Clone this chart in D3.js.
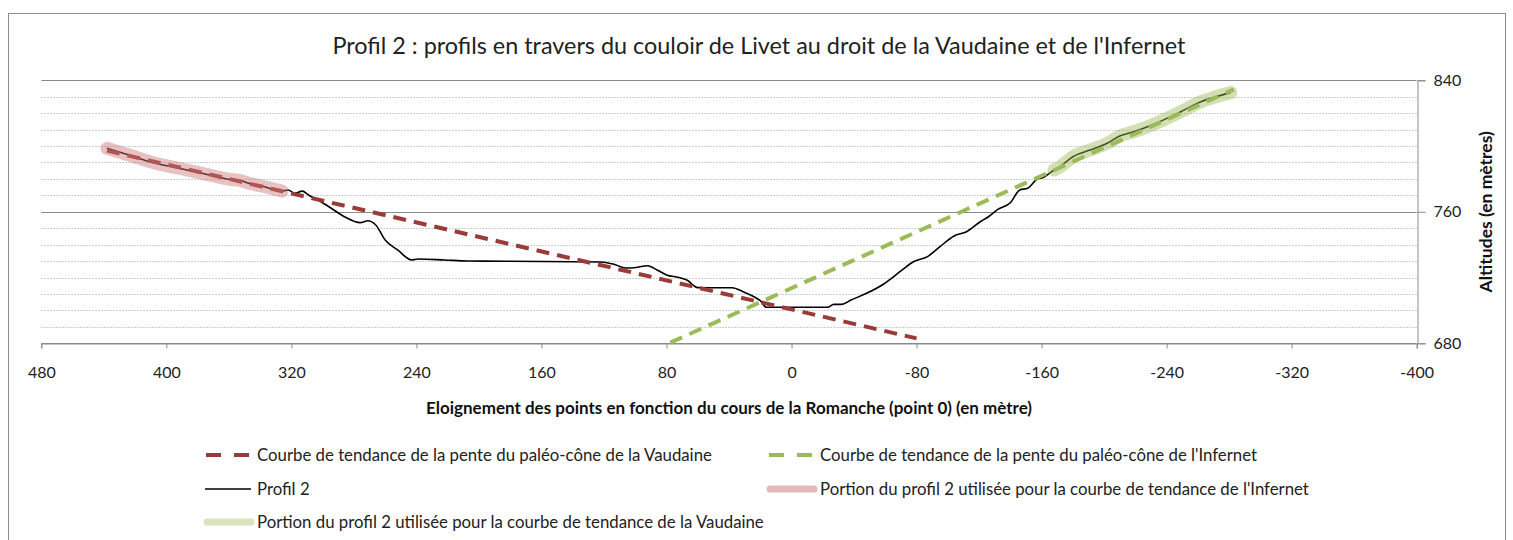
<!DOCTYPE html>
<html>
<head>
<meta charset="utf-8">
<script src="https://cdn.jsdelivr.net/npm/d3@7"></script>
<style>
  body { margin: 0; background: #fff; }
  svg { display: block; font-family: Lato, "Open Sans", sans-serif; }
</style>
</head>
<body>
<div id="viz"></div>
<script>
'use strict';

// distance to the Romanche (m) / altitude (m) of profil 2
var profileX = [438, 424, 407, 392, 377, 360, 352, 347, 339, 326, 322, 318, 313, 309, 303, 296,
    286, 276, 271, 266, 260, 252, 243, 239, 222, 207, 183, 122, 114, 106, 101, 92, 86, 80,
    72, 67, 60, 52, 38, 31, 24, 20, 16, -23, -27, -32, -38, -48, -59, -70, -78, -87, -95,
    -104, -112, -121, -126, -132, -140, -146, -151, -157, -161, -168, -172, -180, -191,
    -202, -210, -219, -234, -249, -262, -271, -281];
var profileY = [798.6, 794.6, 789.5, 786.5, 783.4, 779.8, 778.9, 777.3, 775.7, 772.6, 773.3,
    771.3, 772.6, 770.2, 767.2, 763.1, 757.0, 753.4, 754.6, 752.0, 742.8, 736.8, 730.7, 731.3,
    730.7, 730.1, 729.9, 729.5, 728.2, 725.8, 726.0, 727.2, 724.6, 721.6, 720.0, 718.5, 713.9,
    713.8, 713.8, 711.4, 708.3, 705.9, 701.9, 701.9, 703.7, 703.7, 706.3, 710.4, 716.1, 724.0,
    729.6, 732.7, 738.8, 745.3, 747.9, 754.1, 757.0, 761.5, 765.5, 773.3, 774.3, 779.8, 780.9,
    785.4, 787.6, 793.5, 797.6, 801.7, 806.1, 808.7, 814.2, 820.9, 827.0, 829.8, 832.5];

// trend lines (end points)
var vaudaineTrendX = [438, -80];
var vaudaineTrendY = [797.2, 683.0];
var infernetTrendX = [77.6, -283];
var infernetTrendY = [680.4, 834.5];

// parts of the profile used for the trend lines
var pinkPortionRange = [326, 438];
var greenPortionRange = [-283, -168];

var xTicks = [480, 400, 320, 240, 160, 80, 0, -80, -160, -240, -320, -400];
var yTicks = [680, 760, 840];
var yMinor = [690, 700, 710, 720, 730, 740, 750, 770, 780, 790, 800, 810, 820, 830];

var title = "Profil 2 : profils en travers du couloir de Livet au droit de la Vaudaine et de l'Infernet";
var xTitle = 'Eloignement des points en fonction du cours de la Romanche (point 0) (en mètre)';
var yTitle = 'Altitudes (en mètres)';

var legendItems = [
    {label: 'Courbe de tendance de la pente du paléo-cône de la Vaudaine', kind: 'dash', color: '#993b38', col: 0, row: 0},
    {label: "Courbe de tendance de la pente du paléo-cône de l'Infernet", kind: 'dash', color: '#9bbb59', col: 1, row: 0},
    {label: 'Profil 2', kind: 'line', color: '#000', col: 0, row: 1},
    {label: "Portion du profil 2 utilisée pour la courbe de tendance de l'Infernet", kind: 'band', color: '#e6b9b8', col: 1, row: 1},
    {label: 'Portion du profil 2 utilisée pour la courbe de tendance de la Vaudaine', kind: 'band', color: '#d7e4bd', col: 0, row: 2}
];

var width = 1513,
    height = 540;
var plotLeft = 41.3,
    plotRight = 1416.7,
    plotTop = 80.3,
    plotBottom = 343.3;

var svg = d3.select('#viz').append('svg')
    .attr('width', width)
    .attr('height', height);

svg.append('rect')
    .attr('x', 8.5).attr('y', 13.5)
    .attr('width', 1497).attr('height', 560)
    .attr('fill', '#fff')
    .attr('stroke', '#8c8c8c');

var x = d3.scaleLinear().domain([480, -400]).range([plotLeft, plotRight]);
var y = d3.scaleLinear().domain([680, 840]).range([plotBottom, plotTop]);

// grid
svg.append('g')
    .selectAll('line')
    .data(yMinor)
    .enter().append('line')
    .attr('x1', plotLeft).attr('x2', plotRight)
    .attr('y1', d => Math.round(y(d)) + 0.5)
    .attr('y2', d => Math.round(y(d)) + 0.5)
    .attr('stroke', '#bdbdbd')
    .attr('stroke-dasharray', '1.5,1.5');
svg.append('g')
    .selectAll('line')
    .data(yTicks)
    .enter().append('line')
    .attr('x1', plotLeft).attr('x2', plotRight)
    .attr('y1', d => Math.round(y(d)) + 0.5)
    .attr('y2', d => Math.round(y(d)) + 0.5)
    .attr('stroke', '#8a8a8a');

// x axis (plain hyphen for negatives, like the original)
var xAxis = svg.append('g')
    .attr('transform', 'translate(0,' + (Math.round(plotBottom) + 0.5) + ')')
    .call(d3.axisBottom(x).tickValues(xTicks).tickFormat(d => String(d)).tickSize(5).tickPadding(18));
xAxis.select('.domain').attr('stroke', '#8a8a8a');
xAxis.selectAll('.tick line').attr('stroke', '#8a8a8a');
xAxis.selectAll('.tick text')
    .attr('fill', '#222')
    .style('font-size', '16px')
    .style('font-family', 'Lato, sans-serif');

// y axis on the right
var yAxis = svg.append('g')
    .attr('transform', 'translate(' + (Math.round(plotRight) + 0.5) + ',0)')
    .call(d3.axisRight(y).tickValues(yTicks).tickSize(8).tickPadding(8));
yAxis.select('.domain').attr('stroke', '#8a8a8a');
yAxis.selectAll('.tick line').attr('stroke', '#8a8a8a');
yAxis.selectAll('.tick text')
    .attr('fill', '#222')
    .style('font-size', '16px')
    .style('font-family', 'Lato, sans-serif');

var pts = profileX.map((d, i) => ({x: d, y: profileY[i]}));
var line = d3.line()
    .x(d => x(d.x))
    .y(d => y(d.y))
    .curve(d3.curveMonotoneX);
var straight = d3.line()
    .x(d => x(d.x))
    .y(d => y(d.y));

// profile
svg.append('path')
    .datum(pts)
    .attr('d', line)
    .attr('fill', 'none')
    .attr('stroke', '#000')
    .attr('stroke-width', 1.6);

// trend lines
function trend(xs, ys, color) {
    svg.append('path')
        .datum(xs.map((d, i) => ({x: d, y: ys[i]})))
        .attr('d', straight)
        .attr('fill', 'none')
        .attr('stroke', color)
        .attr('stroke-width', 4)
        .attr('stroke-dasharray', '13,8');
}
trend(vaudaineTrendX, vaudaineTrendY, '#993b38');
trend(infernetTrendX, infernetTrendY, '#9bbb59');

// highlighted portions of the profile
function portion(range, color) {
    svg.append('path')
        .datum(pts.filter(d => d.x >= range[0] && d.x <= range[1]))
        .attr('d', line)
        .attr('fill', 'none')
        .attr('stroke', color)
        .attr('stroke-opacity', 0.45)
        .attr('stroke-width', 13)
        .attr('stroke-linecap', 'round')
        .attr('stroke-linejoin', 'round');
}
portion(pinkPortionRange, '#cd7878');
portion(greenPortionRange, '#9bbb59');

// titles
svg.append('text')
    .attr('x', 759).attr('y', 54)
    .attr('text-anchor', 'middle')
    .attr('fill', '#222')
    .style('font-size', '23.4px')
    .text(title);
svg.append('text')
    .attr('x', (plotLeft + plotRight) / 2).attr('y', 414)
    .attr('text-anchor', 'middle')
    .attr('fill', '#111')
    .style('font-size', '17px')
    .style('font-weight', 'bold')
    .text(xTitle);
svg.append('text')
    .attr('transform', 'translate(1492,' + ((plotTop + plotBottom) / 2) + ') rotate(-90)')
    .attr('text-anchor', 'middle')
    .attr('fill', '#111')
    .style('font-size', '17.5px')
    .style('font-weight', 'bold')
    .text(yTitle);

// legend
var colX = [205, 768],
    rowY = [455, 489, 522];
var legend = svg.append('g')
    .selectAll('g')
    .data(legendItems)
    .enter().append('g')
    .attr('transform', d => 'translate(' + colX[d.col] + ',' + rowY[d.row] + ')');
legend.each(function(d) {
    var g = d3.select(this);
    if (d.kind === 'dash') {
        g.append('line')
            .attr('x1', 1).attr('x2', 45).attr('y1', 0).attr('y2', 0)
            .attr('stroke', d.color)
            .attr('stroke-width', 4)
            .attr('stroke-dasharray', '15,13');
    } else if (d.kind === 'line') {
        g.append('line')
            .attr('x1', 0).attr('x2', 46).attr('y1', 0).attr('y2', 0)
            .attr('stroke', d.color)
            .attr('stroke-width', 1.6);
    } else {
        g.append('line')
            .attr('x1', 2).attr('x2', 46).attr('y1', 0).attr('y2', 0)
            .attr('stroke', d.color)
            .attr('stroke-width', 7)
            .attr('stroke-linecap', 'round');
    }
    g.append('text')
        .attr('x', 52)
        .attr('y', 6)
        .attr('fill', '#222')
        .style('font-size', '16.8px')
        .text(d.label);
});
</script>
</body>
</html>
